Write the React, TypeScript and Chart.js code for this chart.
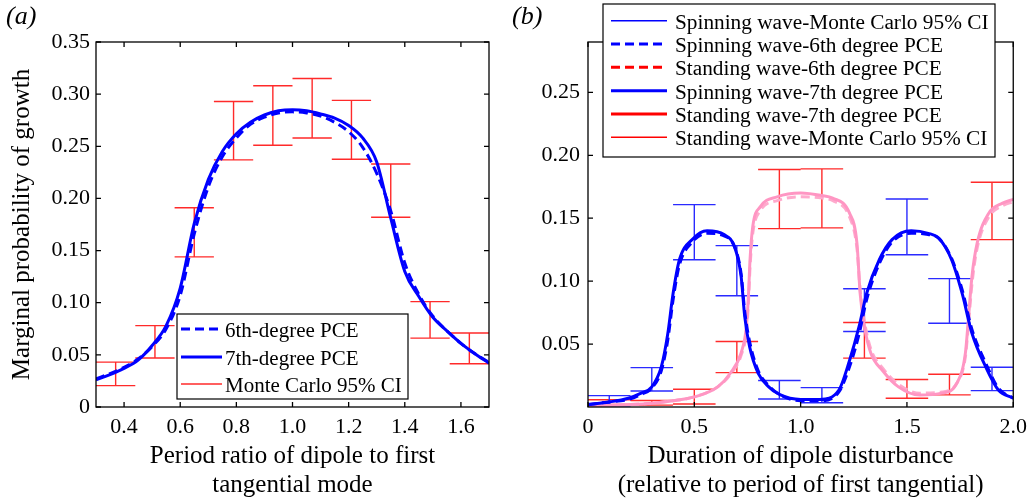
import React, { useEffect, useRef } from "react";
import { Chart, registerables } from "chart.js";
Chart.register(...registerables);

const SERIF = "'Liberation Serif', 'Times New Roman', serif";

// ---------- Panel (a) ----------
const aX = [0.30, 0.35, 0.40, 0.45, 0.50, 0.55, 0.60, 0.65, 0.70, 0.75, 0.80, 0.85, 0.90, 0.95, 1.00, 1.05, 1.10, 1.15, 1.20, 1.25, 1.30, 1.35, 1.40, 1.45, 1.50, 1.55, 1.60, 1.65, 1.70];
const aPce7 = [0.026, 0.031, 0.037, 0.045, 0.059, 0.078, 0.114, 0.176, 0.218, 0.245, 0.262, 0.273, 0.280, 0.284, 0.285, 0.284, 0.281, 0.277, 0.270, 0.258, 0.235, 0.181, 0.130, 0.106, 0.086, 0.073, 0.061, 0.051, 0.042];
const aPce6 = [0.027, 0.032, 0.038, 0.046, 0.058, 0.075, 0.107, 0.166, 0.211, 0.240, 0.258, 0.271, 0.278, 0.282, 0.283, 0.282, 0.279, 0.273, 0.264, 0.249, 0.224, 0.188, 0.138, 0.108, 0.087, 0.073, 0.061, 0.051, 0.043];
const aCiX = [0.37, 0.51, 0.65, 0.79, 0.93, 1.07, 1.21, 1.35, 1.49, 1.63];
const aCiLow = [0.0205, 0.047, 0.144, 0.237, 0.251, 0.258, 0.2375, 0.182, 0.066, 0.0415];
const aCiHigh = [0.043, 0.078, 0.191, 0.293, 0.308, 0.315, 0.294, 0.233, 0.101, 0.071];
const aXTicks = [0.4, 0.6, 0.8, 1.0, 1.2, 1.4, 1.6];
const aYTicks = [0, 0.05, 0.10, 0.15, 0.20, 0.25, 0.30, 0.35];

// ---------- Panel (b) ----------
const bSpinX = [0, 0.1, 0.19, 0.25, 0.30, 0.345, 0.375, 0.40, 0.43, 0.49, 0.56, 0.64, 0.69, 0.72, 0.737, 0.76, 0.80, 0.85, 0.90, 1.00, 1.09, 1.18, 1.23, 1.275, 1.31, 1.37, 1.43, 1.52, 1.60, 1.65, 1.71, 1.76, 1.805, 1.87, 1.93, 2.0];
const bSpin7 = [0.002, 0.004, 0.007, 0.011, 0.016, 0.032, 0.058, 0.090, 0.117, 0.133, 0.140, 0.137, 0.127, 0.104, 0.072, 0.048, 0.027, 0.016, 0.010, 0.006, 0.006, 0.0135, 0.037, 0.064, 0.090, 0.117, 0.133, 0.140, 0.138, 0.134, 0.117, 0.090, 0.059, 0.032, 0.0135, 0.007];
const bSpin6 = [0.002, 0.004, 0.006, 0.010, 0.015, 0.029, 0.053, 0.085, 0.113, 0.131, 0.138, 0.136, 0.127, 0.106, 0.076, 0.052, 0.029, 0.017, 0.010, 0.005, 0.005, 0.012, 0.032, 0.058, 0.085, 0.114, 0.131, 0.138, 0.137, 0.134, 0.118, 0.093, 0.062, 0.035, 0.015, 0.007];
const bStandX = [0, 0.2, 0.3, 0.4, 0.5, 0.61, 0.67, 0.72, 0.745, 0.755, 0.762, 0.775, 0.81, 0.89, 1.0, 1.1, 1.15, 1.23, 1.265, 1.28, 1.30, 1.33, 1.385, 1.46, 1.56, 1.665, 1.735, 1.775, 1.79, 1.806, 1.83, 1.885, 1.95, 2.0];
const bStand7 = [0.001, 0.002, 0.003, 0.005, 0.008, 0.016, 0.027, 0.043, 0.064, 0.090, 0.117, 0.1435, 0.159, 0.167, 0.170, 0.168, 0.166, 0.154, 0.130, 0.090, 0.064, 0.043, 0.029, 0.016, 0.0095, 0.011, 0.019, 0.043, 0.072, 0.104, 0.130, 0.154, 0.162, 0.165];
const bStand6 = [0.001, 0.002, 0.003, 0.005, 0.008, 0.016, 0.026, 0.041, 0.060, 0.084, 0.111, 0.138, 0.156, 0.164, 0.167, 0.166, 0.164, 0.151, 0.126, 0.093, 0.068, 0.046, 0.031, 0.018, 0.011, 0.012, 0.019, 0.040, 0.067, 0.098, 0.126, 0.151, 0.160, 0.163];
const bCiX = [0.1, 0.3, 0.5, 0.7, 0.9, 1.1, 1.3, 1.5, 1.7, 1.9];
const bSpinLow = [0.001, 0.0127, 0.117, 0.0884, 0.0064, 0.0034, 0.060, 0.121, 0.0666, 0.013];
const bSpinHigh = [0.009, 0.0313, 0.1608, 0.1282, 0.021, 0.0154, 0.094, 0.1653, 0.102, 0.0316];
const bStandLow = [0.002, 0.0015, 0.0024, 0.0273, 0.1417, 0.1423, 0.0388, 0.0069, 0.0096, 0.133];
const bStandHigh = [0.0058, 0.0052, 0.0141, 0.052, 0.1887, 0.1892, 0.0671, 0.0218, 0.026, 0.1786];
const bXTicks = [0, 0.5, 1.0, 1.5, 2.0];
const bYTicks = [0.05, 0.10, 0.15, 0.20, 0.25];

const BLUE = "#0000ff";
const RED = "#ff2a2a";
const PINK = "rgb(255,150,195)";
const PINK_D = "rgb(255,170,205)";

type Pt = { x: number; y: number | null };
type LegendItem = { label: string; color: string; width: number; dash?: number[] };

function pts(xs: number[], ys: number[]): Pt[] {
  return xs.map((x, i) => ({ x, y: ys[i] }));
}

function errorBarPoints(xs: number[], lo: number[], hi: number[], half: number): Pt[] {
  const out: Pt[] = [];
  xs.forEach((x, i) => {
    out.push(
      { x: x - half, y: hi[i] }, { x: x + half, y: hi[i] }, { x: x + half, y: null },
      { x, y: hi[i] }, { x, y: lo[i] }, { x, y: null },
      { x: x - half, y: lo[i] }, { x: x + half, y: lo[i] }, { x: x + half, y: null }
    );
  });
  return out;
}

const framePlugin = (tickLen: number) => ({
  id: "frameTicks",
  afterDatasetsDraw(chart: any) {
    const { ctx, chartArea: a, scales } = chart;
    const xs = scales.x, ys = scales.y;
    ctx.save();
    ctx.strokeStyle = "#000";
    ctx.lineWidth = 1.3;
    ctx.beginPath();
    xs.ticks.forEach((t: any) => {
      const p = xs.getPixelForValue(t.value);
      ctx.moveTo(p, a.bottom); ctx.lineTo(p, a.bottom - tickLen);
      ctx.moveTo(p, a.top); ctx.lineTo(p, a.top + tickLen);
    });
    ys.ticks.forEach((t: any) => {
      const p = ys.getPixelForValue(t.value);
      ctx.moveTo(a.left, p); ctx.lineTo(a.left + tickLen, p);
      ctx.moveTo(a.right, p); ctx.lineTo(a.right - tickLen, p);
    });
    ctx.stroke();
    ctx.strokeRect(a.left, a.top, a.right - a.left, a.bottom - a.top);
    ctx.restore();
  },
});

const textPlugin = (cfg: { panel: string; panelX: number; panelY: number; xTitle: string[]; xTitleY: number[]; yTitle?: string; yTitleX?: number }) => ({
  id: "axisText",
  afterDraw(chart: any) {
    const { ctx, chartArea: a } = chart;
    ctx.save();
    ctx.fillStyle = "#000";
    ctx.textBaseline = "alphabetic";
    ctx.font = `italic 26px ${SERIF}`;
    ctx.textAlign = "left";
    ctx.fillText(cfg.panel, cfg.panelX, cfg.panelY);
    ctx.font = `25px ${SERIF}`;
    ctx.textAlign = "center";
    const cx = (a.left + a.right) / 2;
    cfg.xTitle.forEach((line, i) => ctx.fillText(line, cx, cfg.xTitleY[i]));
    if (cfg.yTitle) {
      ctx.translate(cfg.yTitleX as number, (a.top + a.bottom) / 2);
      ctx.rotate(-Math.PI / 2);
      ctx.fillText(cfg.yTitle, 0, 0);
    }
    ctx.restore();
  },
});

const legendPlugin = (cfg: { box: number[]; sample: number[]; textX: number; rows: number[]; fontSize: number; items: LegendItem[] }) => ({
  id: "boxLegend",
  afterDraw(chart: any) {
    const { ctx } = chart;
    const [bx, by, bw, bh] = cfg.box;
    ctx.save();
    ctx.fillStyle = "#fff";
    ctx.fillRect(bx, by, bw, bh);
    ctx.strokeStyle = "#000";
    ctx.lineWidth = 1.2;
    ctx.strokeRect(bx, by, bw, bh);
    ctx.font = `${cfg.fontSize}px ${SERIF}`;
    ctx.textAlign = "left";
    ctx.textBaseline = "alphabetic";
    cfg.items.forEach((it, i) => {
      const y = cfg.rows[i];
      ctx.beginPath();
      ctx.strokeStyle = it.color;
      ctx.lineWidth = it.width;
      ctx.setLineDash(it.dash || []);
      ctx.moveTo(cfg.sample[0], y);
      ctx.lineTo(cfg.sample[1], y);
      ctx.stroke();
      ctx.setLineDash([]);
      ctx.fillStyle = "#000";
      ctx.fillText(it.label, cfg.textX, y + 8);
    });
    ctx.restore();
  },
});

const tickFont = { family: SERIF, size: 22 };
const noGrid = { display: false, drawTicks: false };

function configA(): any {
  return {
    type: "line",
    data: {
      datasets: [
        { label: "7th-degree PCE", data: pts(aX, aPce7), borderColor: BLUE, borderWidth: 3, pointRadius: 0, cubicInterpolationMode: "monotone" },
        { label: "6th-degree PCE", data: pts(aX, aPce6), borderColor: BLUE, borderWidth: 3, borderDash: [9, 5], pointRadius: 0, cubicInterpolationMode: "monotone" },
        { label: "Monte Carlo 95% CI", data: errorBarPoints(aCiX, aCiLow, aCiHigh, 0.07), borderColor: RED, borderWidth: 1.4, pointRadius: 0, tension: 0, spanGaps: false },
      ],
    },
    options: {
      animation: false,
      responsive: false,
      layout: { padding: { left: 0, right: 11, top: 42, bottom: 0 } },
      plugins: { legend: { display: false }, tooltip: { enabled: false } },
      scales: {
        x: {
          type: "linear", min: 0.3, max: 1.7,
          afterBuildTicks: (s: any) => { s.ticks = aXTicks.map((v) => ({ value: v })); },
          afterFit: (s: any) => { s.height = 93; },
          grid: noGrid, border: { display: false },
          ticks: { font: tickFont, color: "#000", padding: 7, maxRotation: 0, autoSkip: false, callback: (v: number) => v.toFixed(1) },
        },
        y: {
          type: "linear", min: 0, max: 0.35,
          afterBuildTicks: (s: any) => { s.ticks = aYTicks.map((v) => ({ value: v })); },
          afterFit: (s: any) => { s.width = 96; },
          grid: noGrid, border: { display: false },
          ticks: { font: tickFont, color: "#000", padding: 6, autoSkip: false, callback: (v: number) => (v === 0 ? "0" : v.toFixed(2)) },
        },
      },
    },
    plugins: [
      framePlugin(5),
      textPlugin({ panel: "(a)", panelX: 6, panelY: 24, xTitle: ["Period ratio of dipole to first", "tangential mode"], xTitleY: [463, 492], yTitle: "Marginal probability of growth", yTitleX: 29 }),
      legendPlugin({
        box: [177, 314, 231, 85], sample: [181, 222], textX: 225, rows: [329, 357, 384], fontSize: 21,
        items: [
          { label: "6th-degree PCE", color: BLUE, width: 3, dash: [9, 5] },
          { label: "7th-degree PCE", color: BLUE, width: 3 },
          { label: "Monte Carlo 95% CI", color: RED, width: 1.4 },
        ],
      }),
    ],
  };
}

function configB(): any {
  const off = 500;
  return {
    type: "line",
    data: {
      datasets: [
        { label: "Spinning wave-7th degree PCE", data: pts(bSpinX, bSpin7), borderColor: BLUE, borderWidth: 3, pointRadius: 0, cubicInterpolationMode: "monotone" },
        { label: "Spinning wave-6th degree PCE", data: pts(bSpinX, bSpin6), borderColor: BLUE, borderWidth: 3, borderDash: [9, 5], pointRadius: 0, cubicInterpolationMode: "monotone" },
        { label: "Standing wave-7th degree PCE", data: pts(bStandX, bStand7), borderColor: PINK, borderWidth: 3, pointRadius: 0, cubicInterpolationMode: "monotone" },
        { label: "Standing wave-6th degree PCE", data: pts(bStandX, bStand6), borderColor: PINK_D, borderWidth: 3, borderDash: [9, 5], pointRadius: 0, cubicInterpolationMode: "monotone" },
        { label: "Spinning wave-Monte Carlo 95% CI", data: errorBarPoints(bCiX, bSpinLow, bSpinHigh, 0.1), borderColor: "#2a2aff", borderWidth: 1.4, pointRadius: 0, tension: 0, spanGaps: false },
        { label: "Standing wave-Monte Carlo 95% CI", data: errorBarPoints(bCiX, bStandLow, bStandHigh, 0.1), borderColor: RED, borderWidth: 1.4, pointRadius: 0, tension: 0, spanGaps: false },
      ],
    },
    options: {
      animation: false,
      responsive: false,
      layout: { padding: { left: 0, right: 19, top: 42, bottom: 0 } },
      plugins: { legend: { display: false }, tooltip: { enabled: false } },
      scales: {
        x: {
          type: "linear", min: 0, max: 2,
          afterBuildTicks: (s: any) => { s.ticks = bXTicks.map((v) => ({ value: v })); },
          afterFit: (s: any) => { s.height = 93; },
          grid: noGrid, border: { display: false },
          ticks: { font: tickFont, color: "#000", padding: 7, maxRotation: 0, autoSkip: false, callback: (v: number) => (v === 0 ? "0" : v.toFixed(1)) },
        },
        y: {
          type: "linear", min: 0, max: 0.29,
          afterBuildTicks: (s: any) => { s.ticks = bYTicks.map((v) => ({ value: v })); },
          afterFit: (s: any) => { s.width = 88; },
          grid: noGrid, border: { display: false },
          ticks: { font: tickFont, color: "#000", padding: 8, autoSkip: false, callback: (v: number) => v.toFixed(2) },
        },
      },
    },
    plugins: [
      framePlugin(5),
      textPlugin({ panel: "(b)", panelX: 512 - off, panelY: 24, xTitle: ["Duration of dipole disturbance", "(relative to period of first tangential)"], xTitleY: [463, 492] }),
      legendPlugin({
        box: [603 - off, 4, 392, 153], sample: [611 - off, 667 - off], textX: 675 - off, rows: [20.7, 44, 67.3, 90.7, 114, 137.3], fontSize: 21.3,
        items: [
          { label: "Spinning wave-Monte Carlo 95% CI", color: BLUE, width: 1.4 },
          { label: "Spinning wave-6th degree PCE", color: BLUE, width: 3, dash: [9, 5] },
          { label: "Standing wave-6th degree PCE", color: "#ff0000", width: 3, dash: [9, 5] },
          { label: "Spinning wave-7th degree PCE", color: BLUE, width: 3 },
          { label: "Standing wave-7th degree PCE", color: "#ff0000", width: 3 },
          { label: "Standing wave-Monte Carlo 95% CI", color: "#ff0000", width: 1.4 },
        ],
      }),
    ],
  };
}

export default function App() {
  const refA = useRef<HTMLCanvasElement>(null);
  const refB = useRef<HTMLCanvasElement>(null);
  useEffect(() => {
    const a = new Chart(refA.current as HTMLCanvasElement, configA());
    const b = new Chart(refB.current as HTMLCanvasElement, configB());
    return () => {
      a.destroy();
      b.destroy();
    };
  }, []);
  return (
    <div style={{ position: "absolute", left: 0, top: 0, width: 1034, height: 500, background: "#fff" }}>
      <canvas ref={refA} width={500} height={500} style={{ position: "absolute", left: 0, top: 0, width: 500, height: 500 }} />
      <canvas ref={refB} width={534} height={500} style={{ position: "absolute", left: 500, top: 0, width: 534, height: 500 }} />
    </div>
  );
}
